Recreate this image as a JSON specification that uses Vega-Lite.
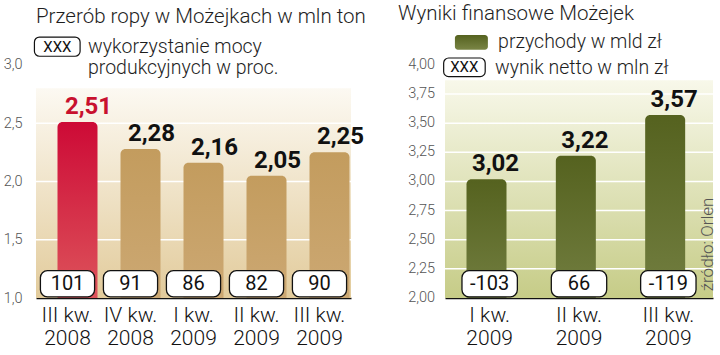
{
  "$schema": "https://vega.github.io/schema/vega-lite/v6.json",
  "padding": {"left": 3, "top": 3, "right": 0, "bottom": 0},
  "background": "white",
  "config": {
    "view": {"stroke": null},
    "font": "Roboto",
    "locale": {"number": {"decimal": ",", "thousands": " ", "grouping": [3], "currency": ["", ""]}},
    "title": {"font": "Roboto", "fontWeight": 300, "color": "#1e1e1e", "fontSize": 20.5, "anchor": "start", "frame": "group", "offset": 8}
  },
  "datasets": {
    "left": [
      {"q": "III kw.|2008", "v": 2.51, "u": "101", "hl": true},
      {"q": "IV kw.|2008", "v": 2.28, "u": "91", "hl": false},
      {"q": "I kw.|2009", "v": 2.16, "u": "86", "hl": false},
      {"q": "II kw.|2009", "v": 2.05, "u": "82", "hl": false},
      {"q": "III kw.|2009", "v": 2.25, "u": "90", "hl": false}
    ],
    "right": [
      {"q": "I kw.|2009", "v": 3.02, "u": "-103"},
      {"q": "II kw.|2009", "v": 3.22, "u": "66"},
      {"q": "III kw.|2009", "v": 3.57, "u": "-119"}
    ],
    "gridL": [{"g": 1.5}, {"g": 2.0}, {"g": 2.5}],
    "gridR": [{"g": 2.25}, {"g": 2.5}, {"g": 2.75}, {"g": 3.0}, {"g": 3.25}, {"g": 3.5}, {"g": 3.75}],
    "ticksR": [{"t": 2.0}, {"t": 2.25}, {"t": 2.5}, {"t": 2.75}, {"t": 3.0}, {"t": 3.25}, {"t": 3.5}, {"t": 3.75}, {"t": 4.0}],
    "one": [{"k": 1}]
  },
  "hconcat": [
    {
      "width": 315,
      "height": 263,
      "title": {"text": "Przerób ropy w Możejkach w mln ton"},
      "layer": [
        {
          "layer": [
            {
              "data": {"name": "one"},
              "mark": {"type": "rect", "fill": {"gradient": "linear", "x1": 0, "y1": 0, "x2": 0, "y2": 1, "stops": [{"offset": 0, "color": "#fcf9f2"}, {"offset": 1, "color": "#e2cb9b"}]}},
              "encoding": {
                "y": {"datum": 2.8, "type": "quantitative", "scale": {"domain": [1, 3.2575], "nice": false, "zero": false},
                  "axis": {"title": null, "values": [1, 1.5, 2, 2.5, 3], "format": ".1f", "grid": false, "domain": false, "ticks": false, "labelOverlap": false, "labelFontSize": 14.5, "labelColor": "#555", "labelPadding": 14, "labelFont": "Roboto", "labelFontWeight": 300}},
                "y2": {"datum": 1.0}
              }
            },
            {
              "data": {"name": "gridL"},
              "mark": {"type": "rule", "color": "white", "strokeWidth": 1.5},
              "encoding": {"y": {"field": "g", "type": "quantitative"}}
            },
            {
              "data": {"name": "left"},
              "mark": {"type": "bar", "width": {"band": 1}, "cornerRadiusTopLeft": 5, "cornerRadiusTopRight": 5},
              "encoding": {
                "x": {"field": "q", "type": "nominal", "sort": null, "scale": {"paddingInner": 0, "paddingOuter": 0},
                  "axis": {"title": null, "labelExpr": "split(datum.value, '|')", "labelFontSize": 21, "labelLineHeight": 23, "labelColor": "#111", "labelAngle": 0, "labelPadding": 6, "ticks": false, "domainColor": "#111", "domainWidth": 1.6, "labelFont": "Roboto", "labelFontWeight": 300}},
                "xOffset": {"datum": "a", "type": "nominal", "scale": {"domain": ["a"], "paddingInner": 0, "paddingOuter": 0.2875, "align": 0.935}},
                "y": {"field": "v", "type": "quantitative"},
                "y2": {"datum": 1.0},
                "fill": {
                  "condition": {"test": "datum.hl", "value": {"gradient": "linear", "x1": 0, "y1": 0, "x2": 0, "y2": 1, "stops": [{"offset": 0, "color": "#cd0a36"}, {"offset": 1, "color": "#dd545b"}]}},
                  "value": {"gradient": "linear", "x1": 0, "y1": 0, "x2": 0, "y2": 1, "stops": [{"offset": 0, "color": "#c39c5e"}, {"offset": 1, "color": "#cca873"}]}
                }
              }
            },
            {
              "data": {"name": "left"},
              "mark": {"type": "text", "fontSize": 24, "fontWeight": "bold", "baseline": "alphabetic", "align": "center", "dy": -8, "dx": 11},
              "encoding": {
                "x": {"field": "q", "type": "nominal", "sort": null},
                "xOffset": {"datum": "a", "type": "nominal"},
                "y": {"field": "v", "type": "quantitative"},
                "text": {"field": "v", "type": "quantitative", "format": ".2f"},
                "color": {"condition": {"test": "datum.hl", "value": "#c8102e"}, "value": "#111"}
              }
            },
            {
              "data": {"name": "left"},
              "mark": {"type": "bar", "width": {"band": 0.86}, "fill": "white", "stroke": "#111", "strokeWidth": 1.3, "cornerRadius": 7},
              "encoding": {
                "x": {"field": "q", "type": "nominal", "sort": null},
                "y": {"datum": 1.235},
                "y2": {"datum": 1.01}
              }
            },
            {
              "data": {"name": "left"},
              "mark": {"type": "text", "fontSize": 20, "baseline": "middle", "color": "#111"},
              "encoding": {
                "x": {"field": "q", "type": "nominal", "sort": null},
                "y": {"datum": 1.12},
                "text": {"field": "u", "type": "nominal"}
              }
            }
          ]
        },
        {
          "data": {"name": "one"},
          "layer": [
            {
              "mark": {"type": "rect", "fill": "white", "stroke": "#111", "strokeWidth": 1.2, "cornerRadius": 5},
              "encoding": {
                "x": {"datum": -0.005, "type": "quantitative", "scale": {"domain": [0, 1], "nice": false, "zero": false}, "axis": null},
                "x2": {"datum": 0.14},
                "y": {"datum": 3.24, "type": "quantitative",
                  "axis": {"title": null, "values": [1, 1.5, 2, 2.5, 3], "format": ".1f", "grid": false, "domain": false, "ticks": false, "labelOverlap": false, "labelFontSize": 14.5, "labelColor": "#555", "labelPadding": 14, "labelFont": "Roboto", "labelFontWeight": 300}},
                "y2": {"datum": 3.075}
              }
            },
            {
              "mark": {"type": "text", "fontSize": 15, "baseline": "middle", "align": "center", "color": "#111", "text": "XXX"},
              "encoding": {"x": {"datum": 0.068, "type": "quantitative"}, "y": {"datum": 3.158, "type": "quantitative"}}
            },
            {
              "mark": {"type": "text", "fontSize": 19.5, "fontWeight": 300, "baseline": "middle", "align": "left", "color": "#1e1e1e", "text": "wykorzystanie mocy"},
              "encoding": {"x": {"datum": 0.165, "type": "quantitative"}, "y": {"datum": 3.158, "type": "quantitative"}}
            },
            {
              "mark": {"type": "text", "fontSize": 19.5, "fontWeight": 300, "baseline": "middle", "align": "left", "color": "#1e1e1e", "text": "produkcyjnych w proc."},
              "encoding": {"x": {"datum": 0.165, "type": "quantitative"}, "y": {"datum": 2.978, "type": "quantitative"}}
            }
          ]
        }
      ],
      "resolve": {"scale": {"x": "independent"}}
    },
    {
      "width": 268,
      "height": 263,
      "title": {"text": "Wyniki finansowe Możejek", "dx": -47},
      "layer": [
        {
          "layer": [
            {
              "data": {"name": "one"},
              "mark": {"type": "rect", "fill": {"gradient": "linear", "x1": 0, "y1": 0, "x2": 0, "y2": 1, "stops": [{"offset": 0, "color": "#f8f8ea"}, {"offset": 1, "color": "#c6cc87"}]}},
              "encoding": {
                "y": {"datum": 3.87, "type": "quantitative", "scale": {"domain": [2, 4.2575], "nice": false, "zero": false}, "axis": null},
                "y2": {"datum": 2.0}
              }
            },
            {
              "data": {"name": "gridR"},
              "mark": {"type": "rule", "color": "white", "strokeWidth": 1.5},
              "encoding": {"y": {"field": "g", "type": "quantitative", "axis": null}}
            },
            {
              "data": {"name": "right"},
              "mark": {"type": "bar", "width": {"band": 1}, "cornerRadiusTopLeft": 5, "cornerRadiusTopRight": 5,
                "fill": {"gradient": "linear", "x1": 0, "y1": 0, "x2": 0, "y2": 1, "stops": [{"offset": 0, "color": "#55621f"}, {"offset": 1, "color": "#727e40"}]}},
              "encoding": {
                "x": {"field": "q", "type": "nominal", "sort": null, "scale": {"paddingInner": 0, "paddingOuter": 0},
                  "axis": {"title": null, "labelExpr": "split(datum.value, '|')", "labelFontSize": 21, "labelLineHeight": 23, "labelColor": "#111", "labelAngle": 0, "labelPadding": 6, "ticks": false, "domainColor": "#111", "domainWidth": 1.6, "labelFont": "Roboto", "labelFontWeight": 300}},
                "xOffset": {"datum": "a", "type": "nominal", "scale": {"domain": ["a"], "paddingInner": 0, "paddingOuter": 0.675, "align": 0.66}},
                "y": {"field": "v", "type": "quantitative", "axis": null},
                "y2": {"datum": 2.0}
              }
            },
            {
              "data": {"name": "right"},
              "mark": {"type": "text", "fontSize": 24, "fontWeight": "bold", "baseline": "alphabetic", "align": "center", "dy": -8, "dx": 9, "color": "#111"},
              "encoding": {
                "x": {"field": "q", "type": "nominal", "sort": null},
                "xOffset": {"datum": "a", "type": "nominal"},
                "y": {"field": "v", "type": "quantitative", "axis": null},
                "text": {"field": "v", "type": "quantitative", "format": ".2f"}
              }
            },
            {
              "data": {"name": "right"},
              "mark": {"type": "bar", "width": {"band": 0.62}, "fill": "white", "stroke": "#111", "strokeWidth": 1.3, "cornerRadius": 7},
              "encoding": {
                "x": {"field": "q", "type": "nominal", "sort": null},
                "y": {"datum": 2.235, "type": "quantitative", "axis": null},
                "y2": {"datum": 2.01}
              }
            },
            {
              "data": {"name": "right"},
              "mark": {"type": "text", "fontSize": 20, "baseline": "middle", "color": "#111"},
              "encoding": {
                "x": {"field": "q", "type": "nominal", "sort": null},
                "y": {"datum": 2.12, "type": "quantitative", "axis": null},
                "text": {"field": "u", "type": "nominal"}
              }
            }
          ]
        },
        {
          "data": {"name": "one"},
          "layer": [
            {
              "mark": {"type": "rect", "fill": {"gradient": "linear", "x1": 0, "y1": 0, "x2": 0, "y2": 1, "stops": [{"offset": 0, "color": "#55621f"}, {"offset": 1, "color": "#7a8545"}]}, "cornerRadius": 3},
              "encoding": {
                "x": {"datum": 0.037, "type": "quantitative", "scale": {"domain": [0, 1], "nice": false, "zero": false}, "axis": null},
                "x2": {"datum": 0.16},
                "y": {"datum": 4.2575, "type": "quantitative", "axis": null},
                "y2": {"datum": 4.13}
              }
            },
            {
              "data": {"name": "ticksR"},
              "mark": {"type": "text", "fontSize": 14.5, "fontWeight": 300, "baseline": "middle", "align": "right", "color": "#555"},
              "encoding": {
                "x": {"datum": -0.037, "type": "quantitative", "axis": null},
                "y": {"field": "t", "type": "quantitative", "axis": null},
                "text": {"field": "t", "type": "quantitative", "format": ".2f"}
              }
            },
            {
              "mark": {"type": "rect", "fill": "white", "stroke": "#111", "strokeWidth": 1.2, "cornerRadius": 5},
              "encoding": {"x": {"datum": -0.005, "type": "quantitative", "axis": null}, "x2": {"datum": 0.15}, "y": {"datum": 4.06, "type": "quantitative", "axis": null}, "y2": {"datum": 3.9}}
            },
            {
              "mark": {"type": "text", "fontSize": 15, "baseline": "middle", "align": "center", "color": "#111", "text": "XXX"},
              "encoding": {"x": {"datum": 0.072, "type": "quantitative", "axis": null}, "y": {"datum": 3.98, "type": "quantitative", "axis": null}}
            },
            {
              "mark": {"type": "text", "fontSize": 19.5, "fontWeight": 300, "baseline": "middle", "align": "left", "color": "#1e1e1e", "text": "przychody w mld zł"},
              "encoding": {"x": {"datum": 0.198, "type": "quantitative", "axis": null}, "y": {"datum": 4.197, "type": "quantitative", "axis": null}}
            },
            {
              "mark": {"type": "text", "fontSize": 19.5, "fontWeight": 300, "baseline": "middle", "align": "left", "color": "#1e1e1e", "text": "wynik netto w mln zł"},
              "encoding": {"x": {"datum": 0.187, "type": "quantitative", "axis": null}, "y": {"datum": 3.974, "type": "quantitative", "axis": null}}
            },
            {
              "mark": {"type": "text", "fontSize": 17, "fontWeight": 300, "baseline": "middle", "align": "center", "angle": 270, "color": "#555", "text": "źródło: Orlen"},
              "encoding": {"x": {"datum": 0.982, "type": "quantitative", "axis": null}, "y": {"datum": 2.46, "type": "quantitative", "axis": null}}
            }
          ]
        }
      ],
      "resolve": {"scale": {"x": "independent"}}
    }
  ],
  "spacing": 32
}
